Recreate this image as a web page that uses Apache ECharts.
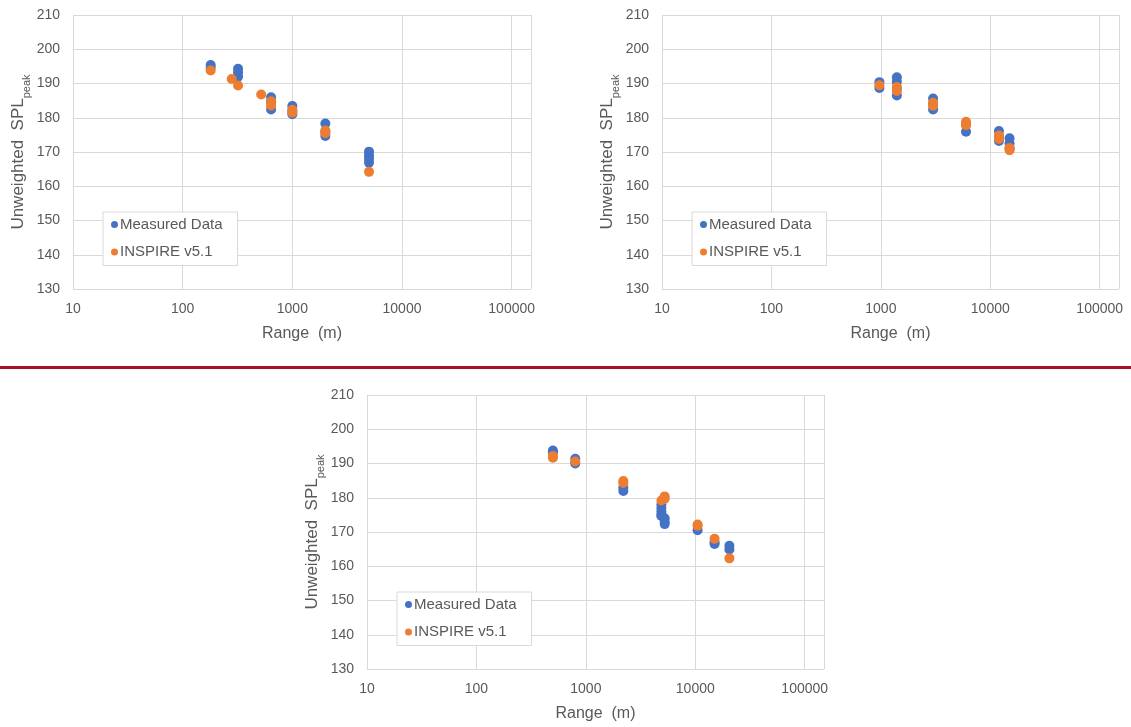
<!DOCTYPE html>
<html>
<head>
<meta charset="utf-8">
<script src="https://cdn.jsdelivr.net/npm/echarts@6/dist/echarts.min.js"></script>
<style>
html,body{margin:0;padding:0;background:#fff;}
#chart{width:1131px;height:727px;}
</style>
</head>
<body>
<div id="chart"></div>
<script>
// ---- Data: [range (m), unweighted SPL_peak (dB)] ----
var c1Measured = [[180,195.4],[180,194.6],[320,194.3],[320,193.2],[320,192.0],[640,186.0],[640,184.5],[640,182.4],[1000,183.4],[1000,182.0],[1000,181.0],[2000,178.3],[2000,176.0],[2000,174.7],[5000,170.1],[5000,169.0],[5000,168.0],[5000,166.9]];
var c1Inspire  = [[180,193.8],[280,191.3],[320,189.4],[520,186.8],[640,184.8],[640,183.6],[1000,182.3],[1000,181.5],[2000,176.3],[2000,175.5],[5000,164.2]];
var c2Measured = [[970,190.4],[970,188.7],[1400,191.8],[1400,190.5],[1400,188.5],[1400,186.5],[3000,185.6],[3000,184.0],[3000,182.4],[6000,178.0],[6000,175.9],[12000,176.1],[12000,174.5],[12000,173.2],[15000,174.0],[15000,172.5],[15000,171.0]];
var c2Inspire  = [[970,189.5],[1400,189.0],[1400,187.8],[3000,184.4],[3000,183.5],[6000,178.8],[6000,177.8],[12000,174.8],[12000,173.8],[15000,171.2],[15000,170.5]];
var c3Measured = [[500,193.8],[500,193.3],[800,191.4],[800,190.0],[2200,183.0],[2200,182.0],[4900,178.0],[4900,177.0],[4900,176.0],[4900,175.0],[4900,174.7],[5250,174.0],[5250,173.0],[5250,172.3],[10500,170.5],[15000,167.0],[15000,166.5],[20500,166.0],[20500,164.9]];
var c3Inspire  = [[500,192.2],[500,191.7],[800,190.6],[2200,184.9],[2200,184.3],[4900,179.2],[5250,180.4],[5250,179.7],[10500,172.2],[10500,171.8],[15000,168.0],[20500,162.3]];
var seriesNames = ['Measured Data','INSPIRE v5.1'];
var yTitle = '{a|Unweighted  SPL}{b|peak}';
var xTitle = 'Range  (m)';

var BLUE = '#4472C4', ORANGE = '#ED7D31', GRID = '#d9d9d9', TXT = '#595959';
var FONT = 'Liberation Sans, Arial, sans-serif';

var grids = [
  {left:73, top:15, width:458, height:274},
  {left:662, top:15, width:457, height:274},
  {left:367, top:395, width:457, height:274}
];
var legendPos = [{left:103, top:212},{left:692, top:212},{left:397, top:592}];
var dataSets = [[c1Measured,c1Inspire],[c2Measured,c2Inspire],[c3Measured,c3Inspire]];

var xAxes = [], yAxes = [], series = [], legends = [];
grids.forEach(function(g, i){
  xAxes.push({
    type:'log', gridIndex:i, min:10, max:150000, logBase:10,
    name:xTitle, nameLocation:'middle', nameGap:37,
    nameTextStyle:{fontSize:16, color:TXT, fontFamily:FONT},
    axisLine:{show:false}, axisTick:{show:false},
    splitLine:{show:true, lineStyle:{color:GRID, width:1}},
    axisLabel:{fontSize:14, color:TXT, fontFamily:FONT, margin:13, showMaxLabel:false,
      formatter:function(v){ return String(Math.round(v)); }}
  });
  yAxes.push({
    type:'value', gridIndex:i, min:130, max:210, interval:10,
    name:yTitle, nameLocation:'middle', nameGap:43, nameRotate:90,
    nameTextStyle:{color:TXT, fontFamily:FONT,
      rich:{a:{fontSize:17, color:TXT, fontFamily:FONT, lineHeight:22, verticalAlign:'bottom'},
            b:{fontSize:11, color:TXT, fontFamily:FONT, lineHeight:22, verticalAlign:'bottom', padding:[0,0,-6,0]}}},
    axisLine:{show:false}, axisTick:{show:false},
    splitLine:{show:true, lineStyle:{color:GRID, width:1}},
    axisLabel:{fontSize:14, color:TXT, fontFamily:FONT, margin:13}
  });
  series.push({
    name:seriesNames[0], type:'scatter', xAxisIndex:i, yAxisIndex:i,
    data:dataSets[i][0], symbol:'circle', symbolSize:10,
    itemStyle:{color:BLUE, opacity:1}, z:2
  });
  series.push({
    name:seriesNames[1], type:'scatter', xAxisIndex:i, yAxisIndex:i,
    data:dataSets[i][1], symbol:'circle', symbolSize:10,
    itemStyle:{color:ORANGE, opacity:1}, z:3
  });
  legends.push({
    left:legendPos[i].left, top:legendPos[i].top, orient:'vertical',
    data:seriesNames, icon:'circle', itemWidth:7, itemHeight:7, itemGap:10.5,
    padding:[4,15,5,8], backgroundColor:'#fff', borderColor:GRID, borderWidth:1,
    selectedMode:false,
    textStyle:{fontSize:15, color:TXT, fontFamily:FONT, lineHeight:17, padding:[0,0,0,-3]}
  });
});

var chart = echarts.init(document.getElementById('chart'), null, {renderer:'canvas'});
chart.setOption({
  animation:false,
  backgroundColor:'#fff',
  grid:grids,
  xAxis:xAxes,
  yAxis:yAxes,
  legend:legends,
  series:series,
  graphic:[{type:'rect', left:0, top:366, shape:{width:1131, height:3}, style:{fill:'#a8102c'}, silent:true}]
});
</script>
</body>
</html>
